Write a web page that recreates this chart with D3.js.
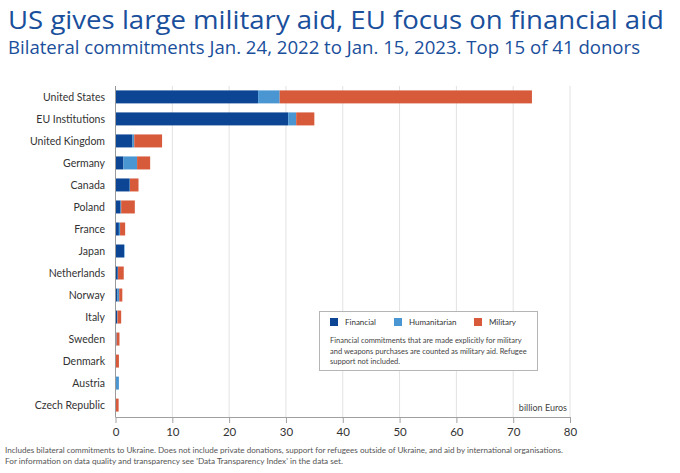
<!DOCTYPE html>
<html><head><meta charset="utf-8">
<script src="https://cdn.jsdelivr.net/npm/d3@7"></script>
<style>body{margin:0;background:#fff}svg{display:block}</style>
</head><body><svg id="c" width="680" height="473"></svg>
<script>
const countries = ["United States","EU Institutions","United Kingdom","Germany","Canada","Poland","France","Japan","Netherlands","Norway","Italy","Sweden","Denmark","Austria","Czech Republic"];
const financial    = [25.1, 30.4, 3.0, 1.4, 2.5, 0.9, 0.6, 1.5, 0.4, 0.35, 0.3, 0.15, 0.0, 0.0, 0.0];
const humanitarian = [3.8, 1.4, 0.3, 2.4, 0.05, 0.1, 0.2, 0.1, 0.05, 0.3, 0.05, 0.05, 0.05, 0.6, 0.0];
const military     = [44.4, 3.2, 4.9, 2.3, 1.5, 2.4, 0.9, 0.0, 1.0, 0.55, 0.65, 0.5, 0.55, 0.0, 0.55];
const seriesNames = ["Financial","Humanitarian","Military"];
const seriesColors = ["#0b4593","#4a96d3","#d75a3b"];
const xTicks = [0,10,20,30,40,50,60,70,80];

const svg = d3.select("#c");
const FONT = "Lato, 'Open Sans', sans-serif";
const x = d3.scaleLinear().domain([0,80]).range([115.5,570]);
const y = d3.scaleBand().domain(countries).range([86,416]).paddingInner(0.41).paddingOuter(0.2);

// title
svg.append("text").attr("x",8).attr("y",29).attr("font-family","'Open Sans', sans-serif")
  .attr("font-size",26).attr("fill","#1a4f9c")
  .attr("textLength",656).attr("lengthAdjust","spacingAndGlyphs")
  .text("US gives large military aid, EU focus on financial aid");
svg.append("text").attr("x",8).attr("y",54).attr("font-family","'Open Sans', sans-serif")
  .attr("font-size",17.5).attr("fill","#1a4f9c")
  .attr("textLength",632).attr("lengthAdjust","spacingAndGlyphs")
  .text("Bilateral commitments Jan. 24, 2022 to Jan. 15, 2023. Top 15 of 41 donors");

// grid
svg.append("g").selectAll("line").data(xTicks.slice(1)).join("line")
  .attr("x1",d=>x(d)).attr("x2",d=>x(d)).attr("y1",86).attr("y2",417)
  .attr("stroke","#e2e2e2").attr("stroke-width",1);

// bars
const data = countries.map((c,i)=>({country:c, Financial:financial[i], Humanitarian:humanitarian[i], Military:military[i]}));
const stack = d3.stack().keys(seriesNames)(data);
svg.append("g").selectAll("g").data(stack).join("g")
  .attr("fill",(d,i)=>seriesColors[i])
  .selectAll("rect").data(d=>d).join("rect")
  .attr("x",d=>x(d[0])).attr("width",d=>Math.max(0,x(d[1])-x(d[0])))
  .attr("y",d=>y(d.data.country)).attr("height",y.bandwidth());

// y axis line + labels
svg.append("line").attr("x1",115.5).attr("x2",115.5).attr("y1",86).attr("y2",417).attr("stroke","#9a9a9a");
svg.append("g").selectAll("text").data(countries).join("text")
  .attr("x",105).attr("y",d=>y(d)+y.bandwidth()/2).attr("dy","0.35em")
  .attr("text-anchor","end").attr("font-family",FONT).attr("font-size",10.5).attr("fill","#333")
  .text(d=>d);

// x axis
const xa = svg.append("g").attr("transform","translate(0,417)")
  .call(d3.axisBottom(x).tickValues(xTicks).tickSize(6).tickPadding(5));
xa.select(".domain").attr("stroke","#a0a0a0").attr("d","M115.5,0.5H570");
xa.selectAll(".tick line").attr("stroke","#a0a0a0");
xa.selectAll(".tick text").attr("font-family",FONT).attr("font-size",11.5).attr("fill","#333");

svg.append("text").attr("x",567).attr("y",411).attr("text-anchor","end")
  .attr("font-family",FONT).attr("font-size",9).attr("fill","#444").text("billion Euros");

// legend
const lg = svg.append("g");
lg.append("rect").attr("x",319.5).attr("y",311.5).attr("width",218).attr("height",59)
  .attr("fill","#fff").attr("stroke","#b5b5b5");
const legX = [330,394,474];
seriesNames.forEach((n,i)=>{
  lg.append("rect").attr("x",legX[i]).attr("y",318).attr("width",8).attr("height",8).attr("fill",seriesColors[i]);
  lg.append("text").attr("x",legX[i]+15).attr("y",325).attr("font-family",FONT).attr("font-size",8).attr("fill","#333").text(n);
});
const note = ["Financial commitments that are made explicitly for military",
  "and weapons purchases are counted as military aid. Refugee",
  "support not included."];
note.forEach((t,i)=>lg.append("text").attr("x",330).attr("y",343+i*10.5)
  .attr("font-family",FONT).attr("font-size",7.5).attr("fill","#444").text(t));

// footnote
const foot = ["Includes bilateral commitments to Ukraine. Does not include private donations, support for refugees outside of Ukraine, and aid by international organisations.",
  "For information on data quality and transparency see 'Data Transparency Index' in the data set."];
const footW = [558, 338];
foot.forEach((t,i)=>svg.append("text").attr("x",5).attr("y",453+i*11)
  .attr("font-family",FONT).attr("font-size",7.8).attr("fill","#555")
  .attr("textLength",footW[i]).attr("lengthAdjust","spacingAndGlyphs").text(t));
</script></body></html>
